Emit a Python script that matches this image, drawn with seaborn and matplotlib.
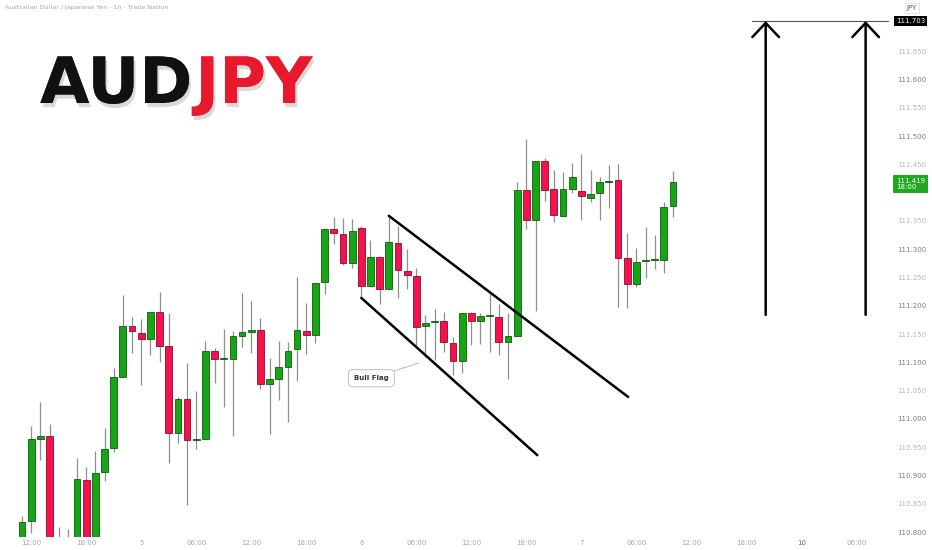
import matplotlib
matplotlib.use("Agg")
import matplotlib.pyplot as plt
import matplotlib.transforms as mtransforms
import matplotlib.patheffects as pe
from matplotlib import font_manager
import seaborn as sns
import numpy as np
import pandas as pd

# hourly AUDJPY candles
opens = [110.780, 110.820, 110.965, 110.970, 110.780, 110.770, 110.770, 110.892, 110.780, 110.906,
         110.949, 111.074, 111.164, 111.152, 111.141, 111.189, 111.129, 110.975, 111.035, 110.963,
         110.965, 111.120, 111.106, 111.106, 111.147, 111.154, 111.157, 111.062, 111.071, 111.092,
         111.124, 111.155, 111.148, 111.242, 111.336, 111.327, 111.276, 111.337, 111.235, 111.286,
         111.230, 111.311, 111.261, 111.253, 111.164, 111.171, 111.173, 111.134, 111.102, 111.187,
         111.173, 111.182, 111.180, 111.136, 111.147, 111.405, 111.352, 111.456, 111.406, 111.359,
         111.406, 111.403, 111.390, 111.399, 111.419, 111.422, 111.284, 111.239, 111.279, 111.281,
         111.281, 111.376]
highs = [110.829, 110.988, 111.030, 110.991, 110.809, 110.806, 110.931, 110.915, 110.943, 110.984,
         111.090, 111.219, 111.180, 111.177, 111.189, 111.224, 111.187, 111.039, 111.099, 111.049,
         111.138, 111.125, 111.159, 111.155, 111.223, 111.208, 111.178, 111.108, 111.138, 111.136,
         111.251, 111.205, 111.240, 111.336, 111.357, 111.355, 111.353, 111.341, 111.316, 111.288,
         111.359, 111.341, 111.300, 111.267, 111.184, 111.194, 111.189, 111.145, 111.187, 111.189,
         111.187, 111.221, 111.203, 111.187, 111.419, 111.495, 111.456, 111.461, 111.440, 111.436,
         111.452, 111.468, 111.440, 111.428, 111.449, 111.451, 111.329, 111.302, 111.339, 111.325,
         111.383, 111.438]
lows = [110.770, 110.799, 110.928, 110.750, 110.760, 110.760, 110.760, 110.750, 110.770, 110.890,
        110.942, 111.074, 111.117, 111.060, 111.113, 111.101, 110.922, 110.958, 110.848, 110.947,
        110.965, 111.064, 111.021, 110.970, 111.127, 111.117, 111.053, 110.973, 111.034, 110.995,
        111.067, 111.115, 111.134, 111.221, 111.309, 111.272, 111.267, 111.212, 111.233, 111.203,
        111.230, 111.214, 111.230, 111.131, 111.110, 111.104, 111.118, 111.078, 111.081, 111.131,
        111.133, 111.118, 111.113, 111.071, 111.147, 111.336, 111.191, 111.385, 111.348, 111.359,
        111.399, 111.352, 111.383, 111.352, 111.373, 111.198, 111.196, 111.233, 111.249, 111.265,
        111.258, 111.357]
closes = [110.818, 110.965, 110.970, 110.760, 110.770, 110.780, 110.894, 110.770, 110.905, 110.947,
          111.074, 111.164, 111.155, 111.141, 111.189, 111.129, 110.975, 111.035, 110.963, 110.965,
          111.120, 111.106, 111.107, 111.147, 111.154, 111.157, 111.062, 111.071, 111.092, 111.120,
          111.157, 111.148, 111.240, 111.336, 111.329, 111.276, 111.332, 111.235, 111.286, 111.230,
          111.313, 111.263, 111.254, 111.163, 111.170, 111.173, 111.136, 111.102, 111.187, 111.173,
          111.182, 111.182, 111.136, 111.147, 111.405, 111.352, 111.456, 111.405, 111.360, 111.406,
          111.428, 111.394, 111.398, 111.419, 111.420, 111.284, 111.239, 111.277, 111.281, 111.281,
          111.375, 111.419]

time_labels = ["12:00", "18:00", "5", "06:00", "12:00", "18:00", "6", "06:00",
               "12:00", "18:00", "7", "06:00", "12:00", "18:00", "10", "06:00"]
price_ticks = [110.80, 110.85, 110.90, 110.95, 111.00, 111.05, 111.10, 111.15, 111.20,
               111.25, 111.30, 111.35, 111.45, 111.50, 111.55, 111.60, 111.65]

last_price = 111.419
target_price = 111.703
arrow_base = 111.184
upper_flag = [(40.0, 111.359), (66.1, 111.039)]
lower_flag = [(37.0, 111.214), (56.2, 110.936)]

df = pd.DataFrame({"open": opens, "high": highs, "low": lows, "close": closes})
df["x"] = np.arange(len(df))
df["up"] = df["close"] >= df["open"]

sns.set_theme(style="white")
plt.rcParams["font.family"] = ["DejaVu Sans"]

fig = plt.figure(figsize=(9.32, 5.5), dpi=100)
ax = fig.add_axes([0, 13 / 550, 888 / 932, 537 / 550])
ax.set_xlim(-2.4, 94.44)
ax.set_ylim(110.7915, 111.7403)
for s in ax.spines.values():
    s.set_visible(False)

green, green_edge = "#17a517", "#0b5c0b"
red, red_edge = "#f5124c", "#8c0b2d"

ax.vlines(df["x"], df["low"], df["high"], color="#8f8f8f", lw=0.9, zorder=1)
body = (df["close"] - df["open"]).abs().clip(lower=0.0015)
bottom = df[["open", "close"]].min(axis=1)
ax.bar(df["x"], body, bottom=bottom, width=0.74,
       color=np.where(df["up"], green, red),
       edgecolor=np.where(df["up"], green_edge, red_edge), linewidth=0.6, zorder=2)

# axes ticks
ax.set_xticks(np.arange(len(time_labels)) * 6 + 1)
ax.set_xticklabels(time_labels)
ax.tick_params(axis="x", length=0, pad=2.5, labelsize=5, labelcolor="#a8a8a8")
for t in ax.get_xticklabels():
    if t.get_text() == "10":
        t.set_color("#6a6a6a")

ax.yaxis.tick_right()
ax.set_yticks(price_ticks)
ax.set_yticklabels([f"{p:.3f}" for p in price_ticks])
ax.tick_params(axis="y", length=0, pad=6.5, labelsize=5)
for p, t in zip(price_ticks, ax.get_yticklabels()):
    t.set_color("#7a7a7a" if round(p * 100) % 10 == 0 else "#b5b5b5")

# bull flag channel
ax.plot(*zip(*upper_flag), color="black", lw=1.8, solid_capstyle="round", zorder=3)
ax.plot(*zip(*lower_flag), color="black", lw=1.8, solid_capstyle="round", zorder=3)
ax.annotate("Bull Flag", xy=(43.3, 111.099), xytext=(38.1, 111.072),
            fontsize=5, weight="bold", color="#333333", ha="center", va="center",
            bbox=dict(boxstyle="round,pad=0.8,rounding_size=0.6", fc="white", ec="#bdbdbd", lw=0.7),
            arrowprops=dict(arrowstyle="-", color="#bdbdbd", lw=0.7, shrinkA=0, shrinkB=0))

# target arrows
for xa in [81.1, 92.0]:
    ax.annotate("", xy=(xa, target_price), xytext=(xa, arrow_base),
                arrowprops=dict(arrowstyle="->,head_length=0.85,head_width=0.8",
                                lw=1.8, color="black", shrinkA=0, shrinkB=0))
ax.plot([79.6, 94.44], [target_price, target_price], color="#555555", lw=0.8, zorder=1, clip_on=False)

# right scale labels
tr = mtransforms.blended_transform_factory(ax.transAxes, ax.transData)
ax.text(1.009, target_price, f"{target_price:.3f}", transform=tr, ha="left", va="center",
        fontsize=5, color="white", bbox=dict(fc="black", ec="none", pad=1.4), clip_on=False)
ax.text(1.009, last_price - 0.004, f"{last_price:.3f}\n18:00", transform=tr, ha="left", va="center",
        fontsize=5, color="white", linespacing=1.15,
        bbox=dict(fc="#1fa81f", ec="none", pad=1.9), clip_on=False)
fig.text(912 / 932, 1 - 8 / 550, "JPY", ha="center", va="center", fontsize=5, color="#555555",
         bbox=dict(fc="white", ec="#e0e0e0", lw=0.6, pad=1.5))

fig.text(5 / 932, 1 - 8 / 550, "Australian Dollar / Japanese Yen \u00b7 1h \u00b7 Trade Nation",
         ha="left", va="center", fontsize=4.6, color="#a6a6a6")

# big title
names = {f.name for f in font_manager.fontManager.ttflist}
if "Liberation Sans Narrow" in names:
    title_family, title_size = "Liberation Sans Narrow", 56
else:
    title_family, title_size = "DejaVu Sans", 46
shadow = [pe.withSimplePatchShadow(offset=(1.5, -3), shadow_rgbFace="black", alpha=0.15), pe.Normal()]
t1 = fig.text(40 / 932, 1 - 103 / 550, "AUD", family=title_family, weight="bold",
              fontsize=title_size, color="#111111", va="baseline", path_effects=shadow)
fig.canvas.draw()
bb = t1.get_window_extent(renderer=fig.canvas.get_renderer())
fig.text((bb.x1 + 3) / fig.bbox.width, 1 - 103 / 550, "JPY", family=title_family, weight="bold",
         fontsize=title_size, color="#e8192c", va="baseline", path_effects=shadow)

plt.savefig("out.png", dpi=100)
